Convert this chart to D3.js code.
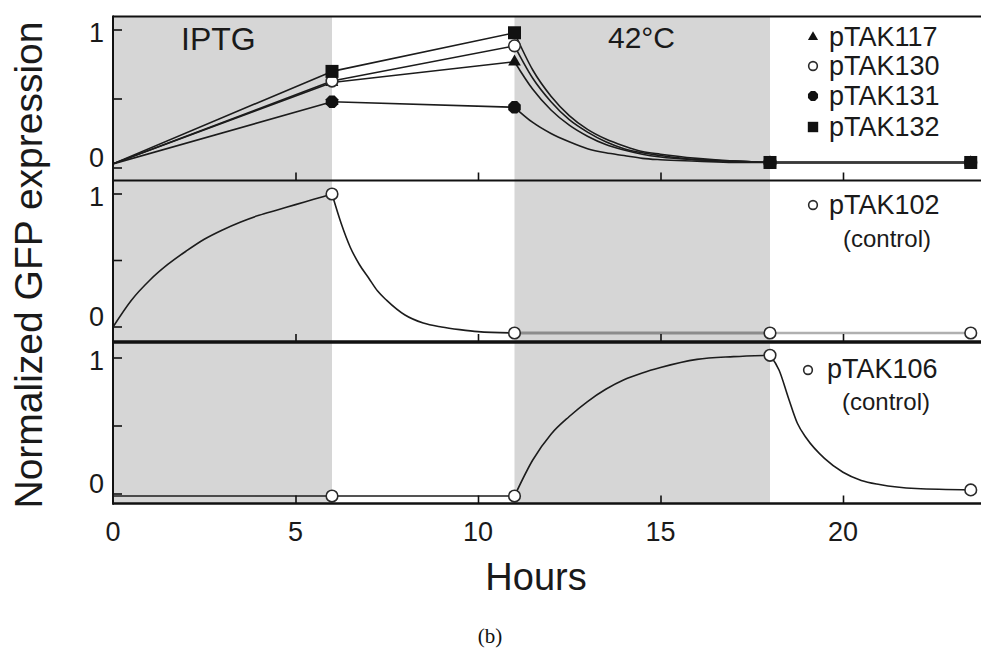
<!DOCTYPE html>
<html>
<head>
<meta charset="utf-8">
<script src="https://cdn.jsdelivr.net/npm/d3@7"></script>
<style>
  html, body { margin: 0; padding: 0; background: #fff; }
  svg { display: block; font-family: "Liberation Sans", Arial, Helvetica, sans-serif; }
</style>
</head>
<body>
<svg id="chart" width="981" height="651"></svg>
<script>
// ---------------- data ----------------
const hourTicks = [0, 5, 10, 15, 20];
const markerHours = [6, 11, 18, 23.5];
const phaseBreaks = [0, 6, 11, 18, 23.5];
const shadedPhases = [[0, 6], [11, 18]];
const phaseLabels = ["IPTG", "42\u00B0C"];

// top panel
const topTimes = [0, 6, 11, 11.5, 12, 12.5, 13, 13.5, 14, 14.5, 15, 16, 17, 18, 23.5];
const pTAK117 = [0.03, 0.62, 0.77, 0.57, 0.42, 0.31, 0.23, 0.17, 0.13, 0.10, 0.08, 0.06, 0.05, 0.04, 0.04];
const pTAK130 = [0.03, 0.63, 0.885, 0.65, 0.48, 0.35, 0.26, 0.19, 0.14, 0.11, 0.09, 0.06, 0.05, 0.04, 0.04];
const pTAK131 = [0.03, 0.48, 0.44, 0.33, 0.25, 0.19, 0.14, 0.11, 0.09, 0.07, 0.06, 0.05, 0.04, 0.04, 0.04];
const pTAK132 = [0.03, 0.70, 0.98, 0.71, 0.52, 0.38, 0.28, 0.21, 0.16, 0.12, 0.10, 0.07, 0.05, 0.04, 0.04];

// middle panel
const ctrl102Times = [0, 0.5, 1, 1.5, 2, 2.5, 3, 3.5, 4, 4.5, 5, 5.5, 6, 6.25, 6.5, 6.75, 7, 7.25, 7.5, 8, 8.5, 9, 9.5, 10, 11, 18, 23.5];
const pTAK102 = [0, 0.20, 0.35, 0.47, 0.57, 0.66, 0.73, 0.79, 0.84, 0.88, 0.92, 0.96, 1.0, 0.78, 0.60, 0.47, 0.37, 0.27, 0.20, 0.09, 0.03, 0.0, -0.02, -0.035, -0.045, -0.045, -0.045];

// bottom panel
const ctrl106Times = [0, 6, 11, 11.5, 12, 12.5, 13, 13.5, 14, 14.5, 15, 16, 17, 18, 18.25, 18.5, 18.75, 19, 19.5, 20, 20.5, 21, 22, 23.5];
const pTAK106 = [-0.015, -0.015, -0.015, 0.25, 0.44, 0.57, 0.68, 0.77, 0.84, 0.89, 0.93, 0.99, 1.01, 1.02, 0.91, 0.71, 0.52, 0.41, 0.26, 0.16, 0.10, 0.07, 0.04, 0.03];

const yTicks = [0, 0.5, 1];
const yTickLabels = ["0", "", "1"];

// ---------------- layout ----------------
const svg = d3.select("#chart");
const x = d3.scaleLinear().domain([0, 24]).range([113, 989]);

const panels = [
  { top: 16.5, bottom: 180.5, y0: 168, y1: 30,
    series: [
      { name: "pTAK117", times: topTimes, values: pTAK117, marker: "triangle" },
      { name: "pTAK130", times: topTimes, values: pTAK130, marker: "open" },
      { name: "pTAK132", times: topTimes, values: pTAK132, marker: "square" },
      { name: "pTAK131", times: topTimes, values: pTAK131, marker: "octagon" }
    ],
    segStyle: ["dark", "dark", "dark", "tail"] },
  { top: 180.5, bottom: 342, y0: 327, y1: 194,
    series: [{ name: "pTAK102", times: ctrl102Times, values: pTAK102, marker: "open" }],
    segStyle: ["dark", "dark", "grey1", "grey2"] },
  { top: 342, bottom: 503.5, y0: 494, y1: 358,
    series: [{ name: "pTAK106", times: ctrl106Times, values: pTAK106, marker: "open" }],
    segStyle: ["dark", "dark", "dark", "dark"] }
];

const segStyles = {
  dark:  { stroke: "#1c1c1c", width: 1.6 },
  tail:  { stroke: "#3a3a3a", width: 2.2 },
  grey1: { stroke: "#8c8c8c", width: 3 },
  grey2: { stroke: "#b0b0b0", width: 2.5 }
};

const defs = svg.append("defs");

function drawMarker(g, type, cx, cy, scale) {
  const s = scale || 1;
  if (type === "square") {
    const h = 6.5 * s;
    g.append("rect").attr("x", cx - h).attr("y", cy - h).attr("width", 2 * h).attr("height", 2 * h).attr("fill", "#111");
  } else if (type === "octagon") {
    const r = 6.8 * s;
    const pts = d3.range(8).map(i => {
      const a = Math.PI / 8 + i * Math.PI / 4;
      return [cx + r * Math.cos(a), cy + r * Math.sin(a)];
    });
    g.append("polygon").attr("points", pts.map(p => p.join(",")).join(" ")).attr("fill", "#111");
  } else if (type === "triangle") {
    const sym = d3.symbol().type(d3.symbolTriangle).size(70 * s * s);
    g.append("path").attr("d", sym()).attr("transform", `translate(${cx},${cy})`).attr("fill", "#111");
  } else if (type === "open") {
    g.append("circle").attr("cx", cx).attr("cy", cy).attr("r", 5.8 * s)
      .attr("fill", "#fff").attr("stroke", "#2a2a2a").attr("stroke-width", 1.6);
  }
}

panels.forEach((p, pi) => {
  const y = d3.scaleLinear().domain([0, 1]).range([p.y0, p.y1]);
  const g = svg.append("g");
  const clipId = "clip" + pi;
  defs.append("clipPath").attr("id", clipId).append("rect")
    .attr("x", x(0)).attr("y", p.top).attr("width", x(24) - x(0)).attr("height", p.bottom - p.top);

  // shaded phases
  g.selectAll("rect.phase").data(shadedPhases).join("rect")
    .attr("class", "phase")
    .attr("x", d => x(d[0])).attr("width", d => x(d[1]) - x(d[0]))
    .attr("y", p.top).attr("height", p.bottom - p.top)
    .attr("fill", "#d6d6d6");

  const plot = g.append("g").attr("clip-path", `url(#${clipId})`);

  // lines, split by phase
  p.series.forEach(s => {
    const pts = s.times.map((t, i) => [t, s.values[i]]);
    for (let k = 0; k < phaseBreaks.length - 1; k++) {
      const a = phaseBreaks[k], b = phaseBreaks[k + 1];
      const seg = pts.filter(d => d[0] >= a && d[0] <= b);
      if (seg.length < 2) continue;
      const st = segStyles[p.segStyle[k]];
      const line = d3.line().x(d => x(d[0])).y(d => y(d[1])).curve(d3.curveMonotoneX);
      plot.append("path").attr("d", line(seg)).attr("fill", "none")
        .attr("stroke", st.stroke).attr("stroke-width", st.width)
        .attr("stroke-linejoin", "round").attr("stroke-linecap", "round");
    }
  });

  // markers
  const mg = g.append("g");
  p.series.forEach(s => {
    markerHours.forEach(h => {
      const i = s.times.indexOf(h);
      if (i < 0) return;
      drawMarker(mg, s.marker, x(h), y(s.values[i]));
    });
  });

  // y ticks
  yTicks.forEach((t, i) => {
    g.append("line").attr("x1", x(0)).attr("x2", x(0) + 9).attr("y1", y(t)).attr("y2", y(t))
      .attr("stroke", "#111").attr("stroke-width", 1.6);
    if (yTickLabels[i]) {
      const off = t === 0 ? -11 : 2;
      g.append("text").attr("x", 104).attr("y", y(t) + off).attr("dy", "0.36em")
        .attr("text-anchor", "end").attr("font-size", 27).attr("fill", "#1a1a1a")
        .text(yTickLabels[i]);
    }
  });

  // x axis ticks (inward) on the bottom of each panel
  const axis = d3.axisBottom(x).tickValues(hourTicks.filter(v => v > 0)).tickSize(-8)
    .tickFormat(() => "");
  const ag = g.append("g").attr("transform", `translate(0,${p.bottom})`).call(axis);
  ag.select(".domain").remove();
  ag.selectAll(".tick line").attr("stroke", "#111").attr("stroke-width", 1.6);
  ag.selectAll(".tick text").remove();
});

// x tick labels under the bottom panel
svg.append("g").selectAll("text").data(hourTicks).join("text")
  .attr("x", d => x(d)).attr("y", 541)
  .attr("text-anchor", "middle").attr("font-size", 27).attr("fill", "#1a1a1a")
  .text(d => d);

// frame lines
const frame = svg.append("g").attr("stroke", "#111").attr("fill", "none");
frame.append("line").attr("x1", x(0)).attr("x2", x(24)).attr("y1", 16.5).attr("y2", 16.5).attr("stroke-width", 2);
frame.append("line").attr("x1", x(0)).attr("x2", x(24)).attr("y1", 180.5).attr("y2", 180.5).attr("stroke-width", 2);
frame.append("line").attr("x1", x(0)).attr("x2", x(24)).attr("y1", 342).attr("y2", 342).attr("stroke-width", 3.5);
frame.append("line").attr("x1", x(0)).attr("x2", x(24)).attr("y1", 503.5).attr("y2", 503.5).attr("stroke-width", 2.5);
frame.append("line").attr("x1", x(0)).attr("x2", x(0)).attr("y1", 15.5).attr("y2", 504.7).attr("stroke-width", 2);
frame.append("line").attr("x1", x(24)).attr("x2", x(24)).attr("y1", 15.5).attr("y2", 504.7).attr("stroke-width", 2);

// phase labels
svg.append("text").attr("x", 181).attr("y", 50).attr("font-size", 32).attr("fill", "#1a1a1a").text(phaseLabels[0]);
svg.append("text").attr("x", 608).attr("y", 48).attr("font-size", 30).attr("fill", "#1a1a1a").text(phaseLabels[1]);

// legends
const legTop = [
  { name: "pTAK117", marker: "triangle", y: 46 },
  { name: "pTAK130", marker: "open", y: 75 },
  { name: "pTAK131", marker: "octagon", y: 105 },
  { name: "pTAK132", marker: "square", y: 136 }
];
const lg = svg.append("g");
legTop.forEach(d => {
  drawMarker(lg, d.marker, 813, d.y - 9, d.marker === "open" ? 0.75 : 0.8);
  lg.append("text").attr("x", 829).attr("y", d.y).attr("font-size", 27).attr("fill", "#1a1a1a").text(d.name);
});
drawMarker(lg, "open", 813, 205, 0.75);
lg.append("text").attr("x", 829).attr("y", 214).attr("font-size", 27).attr("fill", "#1a1a1a").text("pTAK102");
lg.append("text").attr("x", 887).attr("y", 247).attr("text-anchor", "middle").attr("font-size", 24).attr("fill", "#1a1a1a").text("(control)");
drawMarker(lg, "open", 808, 370, 0.75);
lg.append("text").attr("x", 827).attr("y", 378).attr("font-size", 27).attr("fill", "#1a1a1a").text("pTAK106");
lg.append("text").attr("x", 886).attr("y", 410).attr("text-anchor", "middle").attr("font-size", 24).attr("fill", "#1a1a1a").text("(control)");

// axis titles
svg.append("text").attr("x", 536).attr("y", 590).attr("text-anchor", "middle")
  .attr("font-size", 38).attr("fill", "#1a1a1a").text("Hours");
svg.append("text").attr("transform", "translate(42,265) rotate(-90)").attr("text-anchor", "middle")
  .attr("font-size", 39).attr("fill", "#1a1a1a").text("Normalized GFP expression");

// caption
svg.append("text").attr("x", 490).attr("y", 643).attr("text-anchor", "middle")
  .attr("font-family", "'Liberation Serif', 'DejaVu Serif', serif").attr("font-size", 21)
  .attr("fill", "#111").text("(b)");
</script>
</body>
</html>
